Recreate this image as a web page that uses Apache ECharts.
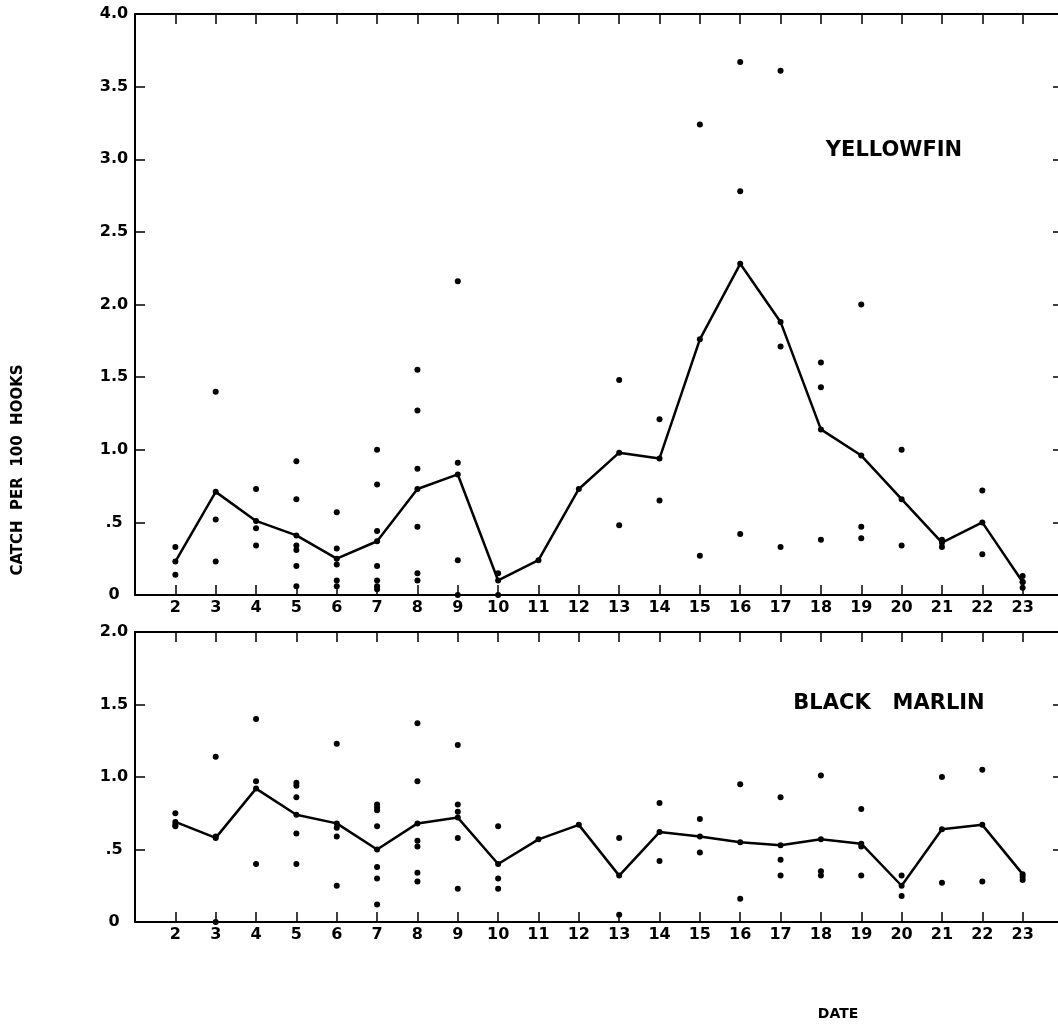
<!DOCTYPE html>
<html><head><meta charset="utf-8">
<script src="https://cdn.jsdelivr.net/npm/echarts@6/dist/echarts.min.js"></script>
<style>html,body{margin:0;padding:0;background:#fff}#c{width:1058px;height:1027px}</style>
</head><body><div id="c"></div>
<script>
// Dates (day of month)
const days = [2,3,4,5,6,7,8,9,10,11,12,13,14,15,16,17,18,19,20,21,22,23];

// Yellowfin: mean catch per 100 hooks (line) and individual catches (dots)
const yellowfinMean = [0.23,0.71,0.51,0.41,0.25,0.37,0.73,0.83,0.10,0.24,0.73,0.98,0.94,1.76,2.28,1.88,1.14,0.96,0.66,0.36,0.50,0.09];
const yellowfinCatches = [
  [0.33,0.14],
  [1.40,0.52,0.23],
  [0.73,0.46,0.34],
  [0.92,0.66,0.34,0.31,0.20,0.06],
  [0.57,0.32,0.21,0.10,0.06],
  [1.00,0.76,0.44,0.20,0.10,0.06,0.04],
  [1.55,1.27,0.87,0.47,0.15,0.10],
  [2.16,0.91,0.24,0.00],
  [0.15,0.00],
  [],
  [],
  [1.48,0.48],
  [1.21,0.65],
  [3.24,0.27],
  [3.67,2.78,0.42],
  [3.61,1.71,0.33],
  [1.60,1.43,0.38],
  [2.00,0.47,0.39],
  [1.00,0.34],
  [0.38,0.33],
  [0.72,0.28],
  [0.13,0.09,0.05]
];

// Black marlin
const marlinMean = [0.69,0.58,0.92,0.74,0.68,0.50,0.68,0.72,0.40,0.57,0.67,0.32,0.62,0.59,0.55,0.53,0.57,0.54,0.25,0.64,0.67,0.33];
const marlinCatches = [
  [0.75,0.67,0.66],
  [1.14,0.59,0.00],
  [1.40,0.97,0.40],
  [0.96,0.94,0.86,0.61,0.40],
  [1.23,0.65,0.59,0.25],
  [0.81,0.79,0.77,0.66,0.38,0.30,0.12],
  [1.37,0.97,0.56,0.52,0.34,0.28],
  [1.22,0.81,0.76,0.58,0.23],
  [0.66,0.30,0.23],
  [],
  [],
  [0.58,0.05],
  [0.82,0.42],
  [0.71,0.48],
  [0.95,0.16],
  [0.86,0.43,0.32],
  [1.01,0.35,0.32],
  [0.78,0.52,0.32],
  [0.32,0.18],
  [1.00,0.27],
  [1.05,0.28],
  [0.31,0.29]
];

const titles = ['YELLOWFIN', 'BLACK   MARLIN'];
const yAxisTitle = 'CATCH  PER  100  HOOKS';
const xAxisTitle = 'DATE';

function pairs(vals){ return days.map((d,i)=>[d, vals[i]]); }
function flat(lists){ const out=[]; days.forEach((d,i)=>lists[i].forEach(v=>out.push([d,v]))); return out; }

const ink = '#000';
const FONT = 'DejaVu Sans';
const lineW = 2;

function xAx(grid, pos, labels){
  return {
    type:'value', gridIndex:grid, position:pos, min:1, max:24, interval:1,
    axisLine:{show:true, onZero:false, lineStyle:{color:ink, width:lineW}},
    axisTick:{show:true, inside:true, length:10, lineStyle:{color:ink, width:1.5}},
    axisLabel:{show:labels, margin:5, color:ink, fontFamily:FONT, fontSize:16, fontWeight:'bold',
      formatter:v=> (v<2||v>23)?'':String(v)},
    splitLine:{show:false}
  };
}
function yAx(grid, pos, max, labels){
  return {
    type:'value', gridIndex:grid, position:pos, min:0, max:max, interval:0.5,
    axisLine:{show:true, onZero:false, lineStyle:{color:ink, width:lineW}},
    axisTick:{show:true, inside:true, length:10, lineStyle:{color:ink, width:1.5}},
    axisLabel:{show:labels, margin:21, align:'center', color:ink, fontFamily:FONT, fontSize:16, fontWeight:'bold',
      formatter:v=> v===0?'0':(v<1? '.'+String(Math.round(v*10)) : v.toFixed(1))},
    splitLine:{show:false}
  };
}

const chart = echarts.init(document.getElementById('c'), null, {renderer:'canvas'});
chart.setOption({
  backgroundColor:'#fff',
  animation:false,
  grid:[
    {left:135, width:928, top:14, height:581, containLabel:false, outerBoundsMode:'none'},
    {left:135, width:928, top:632, height:290, containLabel:false, outerBoundsMode:'none'}
  ],
  xAxis:[ xAx(0,'bottom',true), xAx(0,'top',false), xAx(1,'bottom',true), xAx(1,'top',false) ],
  yAxis:[ yAx(0,'left',4,true), yAx(0,'right',4,false), yAx(1,'left',2,true), yAx(1,'right',2,false) ],
  series:[
    {type:'scatter', xAxisIndex:0, yAxisIndex:0, data:flat(yellowfinCatches), symbol:'circle', symbolSize:6, itemStyle:{color:ink, opacity:1}},
    {type:'line', xAxisIndex:0, yAxisIndex:0, data:pairs(yellowfinMean), symbol:'circle', symbolSize:6, showSymbol:true,
      itemStyle:{color:ink}, lineStyle:{color:ink, width:2.5}},
    {type:'scatter', xAxisIndex:2, yAxisIndex:2, data:flat(marlinCatches), symbol:'circle', symbolSize:6, itemStyle:{color:ink, opacity:1}},
    {type:'line', xAxisIndex:2, yAxisIndex:2, data:pairs(marlinMean), symbol:'circle', symbolSize:6, showSymbol:true,
      itemStyle:{color:ink}, lineStyle:{color:ink, width:2.5}}
  ],
  graphic:[
    {type:'text', x:894, y:151, style:{text:titles[0], align:'center', verticalAlign:'middle', fill:ink, font:'bold 21px "DejaVu Sans"'}},
    {type:'text', x:889, y:704, style:{text:titles[1], align:'center', verticalAlign:'middle', fill:ink, font:'bold 21px "DejaVu Sans"'}},
    {type:'text', x:18, y:470, rotation:Math.PI/2, style:{text:yAxisTitle, align:'center', verticalAlign:'middle', fill:ink, font:'bold 15px "DejaVu Sans"'}},
    {type:'text', x:838, y:1014, style:{text:xAxisTitle, align:'center', verticalAlign:'middle', fill:ink, font:'bold 14px "DejaVu Sans"'}}
  ]
});
</script>
</body></html>
